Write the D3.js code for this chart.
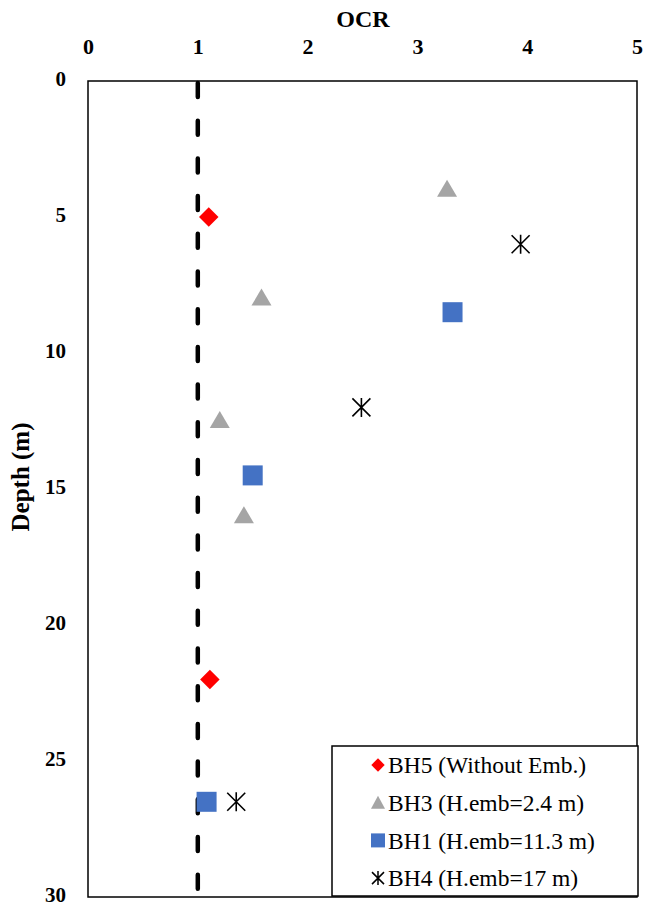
<!DOCTYPE html>
<html><head><meta charset="utf-8">
<script src="https://cdn.jsdelivr.net/npm/d3@7"></script>
<style>body{margin:0;background:#fff}svg{display:block}</style>
</head><body>
<svg id="c" width="646" height="908"></svg>
<script>
const xTicks = [0,1,2,3,4,5];
const yTicks = [0,5,10,15,20,25,30];
const seriesNames = ["BH5 (Without Emb.)","BH3 (H.emb=2.4 m)","BH1 (H.emb=11.3 m)","BH4 (H.emb=17 m)"];
const bh5 = [{ocr:1.10,depth:5},{ocr:1.11,depth:22}];
const bh3 = [{ocr:3.27,depth:4},{ocr:1.58,depth:8},{ocr:1.20,depth:12.5},{ocr:1.42,depth:16}];
const bh1 = [{ocr:3.32,depth:8.5},{ocr:1.50,depth:14.5},{ocr:1.08,depth:26.5}];
const bh4 = [{ocr:3.94,depth:6},{ocr:2.49,depth:12},{ocr:1.35,depth:26.5}];
const refLine = [{ocr:1,depth:0},{ocr:1,depth:30}];

const svg = d3.select("#c");
const L=88, R=637, T=81, B=897;
const x = d3.scaleLinear().domain([0,5]).range([L,R]);
const y = d3.scaleLinear().domain([0,30]).range([T,B]);
const serif = "'Liberation Serif','Times New Roman',serif";

// frame
svg.append("rect").attr("x",L).attr("y",T).attr("width",R-L).attr("height",B-T)
  .attr("fill","none").attr("stroke","#000").attr("stroke-width",1.5);

// axes
const xa = svg.append("g").attr("transform",`translate(0,${T})`)
  .call(d3.axisTop(x).tickValues(xTicks).tickSize(0).tickPadding(0).tickFormat(d3.format("d")));
xa.select(".domain").remove();
xa.selectAll("text").attr("y",-35).attr("dy","0.35em").attr("font-family",serif).attr("font-weight","bold").attr("font-size",22).attr("fill","#000");

const ya = svg.append("g").attr("transform",`translate(${L},-2)`)
  .call(d3.axisLeft(y).tickValues(yTicks).tickSize(0).tickPadding(22).tickFormat(d3.format("d")));
ya.select(".domain").remove();
ya.selectAll("text").attr("font-family",serif).attr("font-weight","bold").attr("font-size",21).attr("fill","#000");

svg.append("text").attr("x",363).attr("y",19).attr("dy","0.35em").attr("text-anchor","middle")
  .attr("font-family",serif).attr("font-weight","bold").attr("font-size",24).text("OCR");
svg.append("text").attr("transform","translate(20,477) rotate(-90)").attr("dy","0.35em").attr("text-anchor","middle")
  .attr("font-family",serif).attr("font-weight","bold").attr("font-size",25).text("Depth (m)");

// reference line
svg.append("path").datum(refLine)
  .attr("d",d3.line().x(d=>x(d.ocr)).y(d=>y(d.depth)))
  .attr("stroke","#000").attr("stroke-width",4.5).attr("stroke-linecap","round")
  .attr("stroke-dasharray","14,23.7").attr("fill","none").attr("transform","translate(0,2)");

// marker drawers
function diamond(g){ g.append("path").attr("d",d3.symbol(d3.symbolSquare,190)()).attr("transform","rotate(45)").attr("fill","#ff0000"); }
function triangle(g){ g.append("path").attr("d","M0,-10L10,7L-10,7Z").attr("fill","#a5a5a5"); }
function square(g){ g.append("rect").attr("x",-10).attr("y",-10).attr("width",20).attr("height",20).attr("fill","#4472c4"); }
function star(g){ g.append("path").attr("d","M0,-9.5V9.5M-9,-9L9,9M-9,9L9,-9").attr("stroke","#000").attr("stroke-width",1.6).attr("fill","none"); }
const drawers=[diamond,triangle,square,star];
const allSeries=[bh5,bh3,bh1,bh4];

allSeries.forEach((s,i)=>{
  svg.append("g").selectAll("g").data(s).join("g")
    .attr("transform",d=>`translate(${x(d.ocr)},${y(d.depth)})`)
    .each(function(){ drawers[i](d3.select(this)); });
});

// legend
const lg = svg.append("g");
lg.append("rect").attr("x",332).attr("y",746).attr("width",306).attr("height",150)
  .attr("fill","#fff").attr("stroke","#000").attr("stroke-width",1.5);
seriesNames.forEach((n,i)=>{
  const cy = 765 + i*37.7;
  const g = lg.append("g").attr("transform",`translate(378,${cy})`);
  if(i===0) g.append("path").attr("d",d3.symbol(d3.symbolSquare,90)()).attr("transform","rotate(45)").attr("fill","#ff0000");
  if(i===1) g.append("path").attr("d","M0,-7L7,6L-7,6Z").attr("fill","#a5a5a5");
  if(i===2) g.append("rect").attr("x",-7).attr("y",-7).attr("width",14).attr("height",14).attr("fill","#4472c4");
  if(i===3) g.append("path").attr("d","M0,-7V7M-6,-6L6,6M-6,6L6,-6").attr("stroke","#000").attr("stroke-width",1.5);
  lg.append("text").attr("x",388).attr("y",cy).attr("dy","0.35em")
    .attr("font-family",serif).attr("font-size",23.5).text(n);
});
</script>
</body></html>
